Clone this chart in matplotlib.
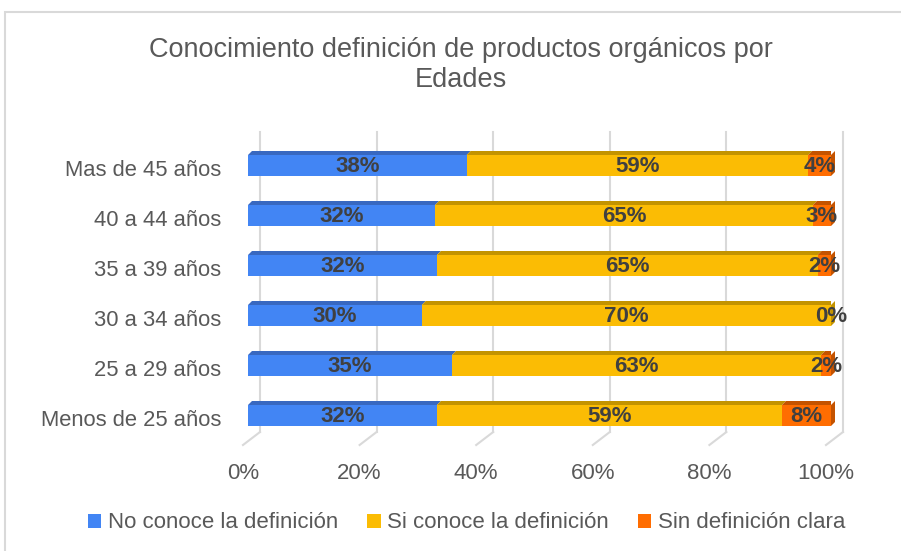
import numpy as np
import matplotlib
matplotlib.use("Agg")
import matplotlib.pyplot as plt
from matplotlib.patches import Polygon, Rectangle
from matplotlib import transforms

plt.rcParams['font.family'] = ['Liberation Sans', 'DejaVu Sans']

# data (percent, rows from bottom to top)
edades = ["Menos de 25 años", "25 a 29 años", "30 a 34 años",
          "35 a 39 años", "40 a 44 años", "Mas de 45 años"]
no_conoce = [32.4, 35.0, 29.8, 32.4, 32.1, 37.5]
si_conoce = [59.2, 63.3, 70.2, 65.3, 64.8, 58.6]
sin_def = [8.4, 1.7, 0.0, 2.3, 3.1, 3.9]
series_names = ["No conoce la definición", "Si conoce la definición", "Sin definición clara"]
ticks = [0, 20, 40, 60, 80, 100]
tick_labels = ["0%", "20%", "40%", "60%", "80%", "100%"]

front = ["#4285f4", "#fbbc04", "#ff6d01"]
top = ["#3868c0", "#c39300", "#c45300"]

W, H = 901, 551
fig = plt.figure(figsize=(W / 100, H / 100), dpi=100)
ax = fig.add_axes([248 / W, (H - 432) / H, 583 / W, 300 / H])
ax.set_xlim(0, 100)
ax.set_ylim(-0.33, 5.67)
for s in ax.spines.values():
    s.set_visible(False)

# back-wall gridlines with floor diagonal
px = fig.dpi_scale_trans
blend = transforms.blended_transform_factory(ax.transData, ax.transAxes)
for t in ticks:
    ax.plot([t, t], [0, 1], color="#d9d9d9", lw=1.5, clip_on=False,
            transform=blend + transforms.ScaledTranslation(0.12, 0, px), zorder=0)
    p0 = blend.transform((t, 0))
    x0, y0 = p0[0] + 12, p0[1]
    x1, y1 = p0[0] - 5, p0[1] - 13
    fig.add_artist(plt.Line2D([x0 / W, x1 / W], [y0 / H, y1 / H], color="#d9d9d9", lw=1.5,
                              transform=fig.transFigure))

y = np.arange(len(edades))
h = 0.42
dx = 4 * 100 / 583
dy = 4 / 50
data = [no_conoce, si_conoce, sin_def]
left = np.zeros(len(edades))
for k, vals in enumerate(data):
    vals = np.array(vals)
    ax.barh(y, vals, left=left, height=h, color=front[k], edgecolor="none", zorder=2)
    for i in range(len(y)):
        yt = y[i] + h / 2
        l, w = left[i], vals[i]
        ax.add_patch(Polygon([(l, yt), (l + w, yt), (l + w + dx, yt + dy), (l + dx, yt + dy)],
                             closed=True, facecolor=top[k], edgecolor="none", zorder=2))
        ax.text(l + w / 2, y[i] - 0.03, f"{w:.0f}%", ha="center", va="center",
                fontsize=16, fontweight="bold", color="#404040", zorder=4)
    left = left + vals

# right side face
for i in range(len(y)):
    last = 2 if sin_def[i] > 0 else 1
    yb, yt = y[i] - h / 2, y[i] + h / 2
    ax.add_patch(Polygon([(100, yb), (100, yt), (100 + dx, yt + dy), (100 + dx, yb + dy)],
                         closed=True, facecolor=top[last], edgecolor="none", zorder=3, clip_on=False))

ax.set_yticks(y)
ax.set_yticklabels(edades, fontsize=15.8, color="#595959")
ax.set_xticks(ticks)
ax.set_xticklabels(tick_labels, fontsize=16, color="#595959")
ax.tick_params(length=0)
ax.tick_params(axis="y", pad=19)
ax.tick_params(axis="x", pad=22)
for lab in ax.get_xticklabels():
    lab.set_transform(lab.get_transform() + transforms.ScaledTranslation(-0.05, 0, px))
for lab in ax.get_yticklabels():
    lab.set_transform(lab.get_transform() + transforms.ScaledTranslation(0, -0.03, px))

fig.text(461 / W, (H - 50) / H, "Conocimiento definición de productos orgánicos por",
         ha="center", va="center", fontsize=19.5, color="#595959")
fig.text(461 / W, (H - 80) / H, "Edades",
         ha="center", va="center", fontsize=19.5, color="#595959")

handles = [Rectangle((0, 0), 1, 1, facecolor=c, edgecolor="none") for c in front]
fig.legend(handles, series_names, loc="center", bbox_to_anchor=(0.518, (H - 523) / H), ncol=3,
           frameon=False, fontsize=16, handlelength=0.6, handleheight=0.6,
           handletextpad=0.3, columnspacing=1.3, labelcolor="#595959")

fig.add_artist(Rectangle((5 / W, -0.1), 1.2, (H - 12) / H + 0.1, transform=fig.transFigure,
                         facecolor="none", edgecolor="#d9d9d9", lw=1.5))

fig.savefig("out.png", dpi=100)
